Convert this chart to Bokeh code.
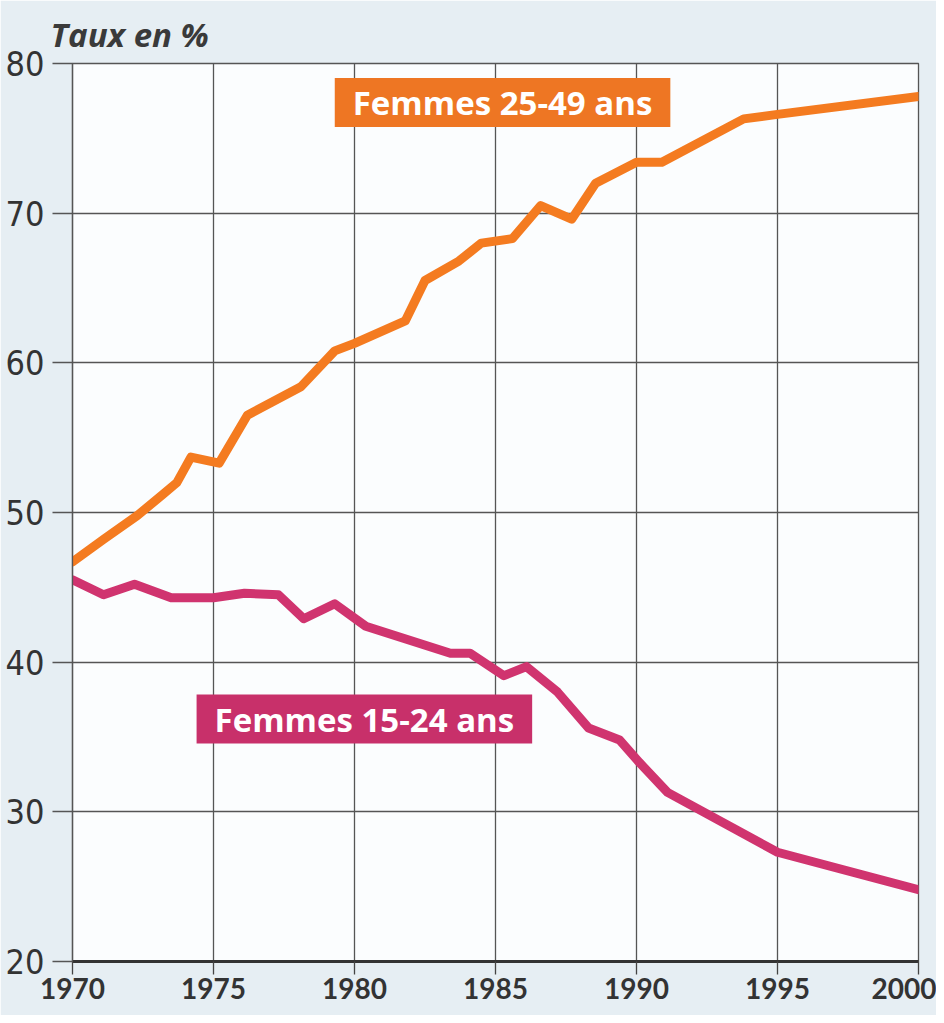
from bokeh.plotting import figure
from bokeh.models import Range1d, FixedTicker, Label, Title
from bokeh.embed import file_html
from bokeh.resources import INLINE

# ---- data ----
years_25_49 = [1970.0, 1971.1, 1972.3, 1973.2, 1973.7, 1974.2, 1975.2, 1976.2, 1978.1,
               1979.3, 1980.0, 1981.8, 1982.5, 1983.7, 1984.5, 1985.6, 1986.6, 1987.7,
               1988.55, 1990.0, 1990.9, 1993.8, 1995.0, 2000.0]
taux_25_49 = [46.7, 48.2, 49.8, 51.2, 52.0, 53.7, 53.3, 56.5, 58.4,
              60.8, 61.3, 62.8, 65.5, 66.8, 68.0, 68.3, 70.5, 69.6,
              72.0, 73.4, 73.4, 76.3, 76.6, 77.8]

years_15_24 = [1970.0, 1971.1, 1972.2, 1973.5, 1975.0, 1976.1, 1977.3, 1978.2, 1979.3,
               1980.4, 1983.4, 1984.1, 1985.3, 1986.1, 1987.2, 1988.3, 1989.4, 1990.1,
               1991.1, 1995.0, 2000.0]
taux_15_24 = [45.5, 44.5, 45.2, 44.3, 44.3, 44.6, 44.5, 42.9, 43.9,
              42.4, 40.6, 40.6, 39.1, 39.7, 38.0, 35.6, 34.8, 33.3,
              31.3, 27.3, 24.8]

x_ticks = [1970, 1975, 1980, 1985, 1990, 1995, 2000]
y_ticks = [20, 30, 40, 50, 60, 70, 80]

label_25_49 = "Femmes 25-49 ans"
label_15_24 = "Femmes 15-24 ans"
y_title = "Taux en %"

ORANGE = "#F47B20"
MAGENTA = "#D0346F"

p = figure(width=936, height=1015, output_backend="svg", toolbar_location=None,
           x_range=Range1d(1970, 2000), y_range=Range1d(20, 80),
           min_border_left=72, min_border_right=18, min_border_top=63, min_border_bottom=54,
           background_fill_color="#FBFDFE", border_fill_color="#E6EEF3",
           outline_line_color="#555555", outline_line_width=1.3)

title = Title(text=y_title, align="left", offset=-22, standoff=14,
              text_font="Open Sans", text_font_style="bold italic",
              text_font_size="33px", text_color="#3a3a3a")
p.add_layout(title, "above")

# grid
p.xgrid.ticker = FixedTicker(ticks=x_ticks)
p.ygrid.ticker = FixedTicker(ticks=y_ticks)
p.grid.grid_line_color = "#555555"
p.grid.grid_line_width = 1.3
p.grid.grid_line_alpha = 1.0

# x axis
xa = p.xaxis[0]
xa.ticker = FixedTicker(ticks=x_ticks)
xa.minor_tick_line_color = None
xa.major_tick_in = 0
xa.major_tick_out = 13
xa.major_tick_line_color = "#444444"
xa.major_tick_line_width = 1.3
xa.axis_line_color = "#333333"
xa.axis_line_width = 3
xa.major_label_standoff = 3
xa.major_label_text_font = "Lato"
xa.major_label_text_font_style = "bold"
xa.major_label_text_font_size = "28px"
xa.major_label_text_color = "#333333"

# y axis
ya = p.yaxis[0]
ya.ticker = FixedTicker(ticks=y_ticks)
ya.minor_tick_line_color = None
ya.major_tick_in = 0
ya.major_tick_out = 20
ya.major_tick_line_color = "#555555"
ya.major_tick_line_width = 1.3
ya.axis_line_color = "#555555"
ya.axis_line_width = 1.3
ya.major_label_standoff = 8
ya.major_label_text_font = "'Liberation Sans Narrow', 'DejaVu Sans Condensed', sans-serif"
ya.major_label_text_font_size = "34px"
ya.major_label_text_color = "#333333"

# lines
p.line(years_25_49, taux_25_49, line_color=ORANGE, line_width=9, line_join="round", line_cap="round")
p.line(years_15_24, taux_15_24, line_color=MAGENTA, line_width=9, line_join="round", line_cap="round")

# series labels
p.add_layout(Label(x=1985.25, y=77.4, text=label_25_49, text_align="center", text_baseline="middle",
                   text_font="Open Sans", text_font_style="bold", text_font_size="33px",
                   text_color="#FFFFFF", background_fill_color="#EE7623",
                   padding=(18, 18, 2, 2)))
p.add_layout(Label(x=1980.35, y=36.2, text=label_15_24, text_align="center", text_baseline="middle",
                   text_font="Open Sans", text_font_style="bold", text_font_size="33px",
                   text_color="#FFFFFF", background_fill_color="#C8306A",
                   padding=(18, 18, 2, 2)))

open("out.html", "w").write(file_html(p, INLINE))
